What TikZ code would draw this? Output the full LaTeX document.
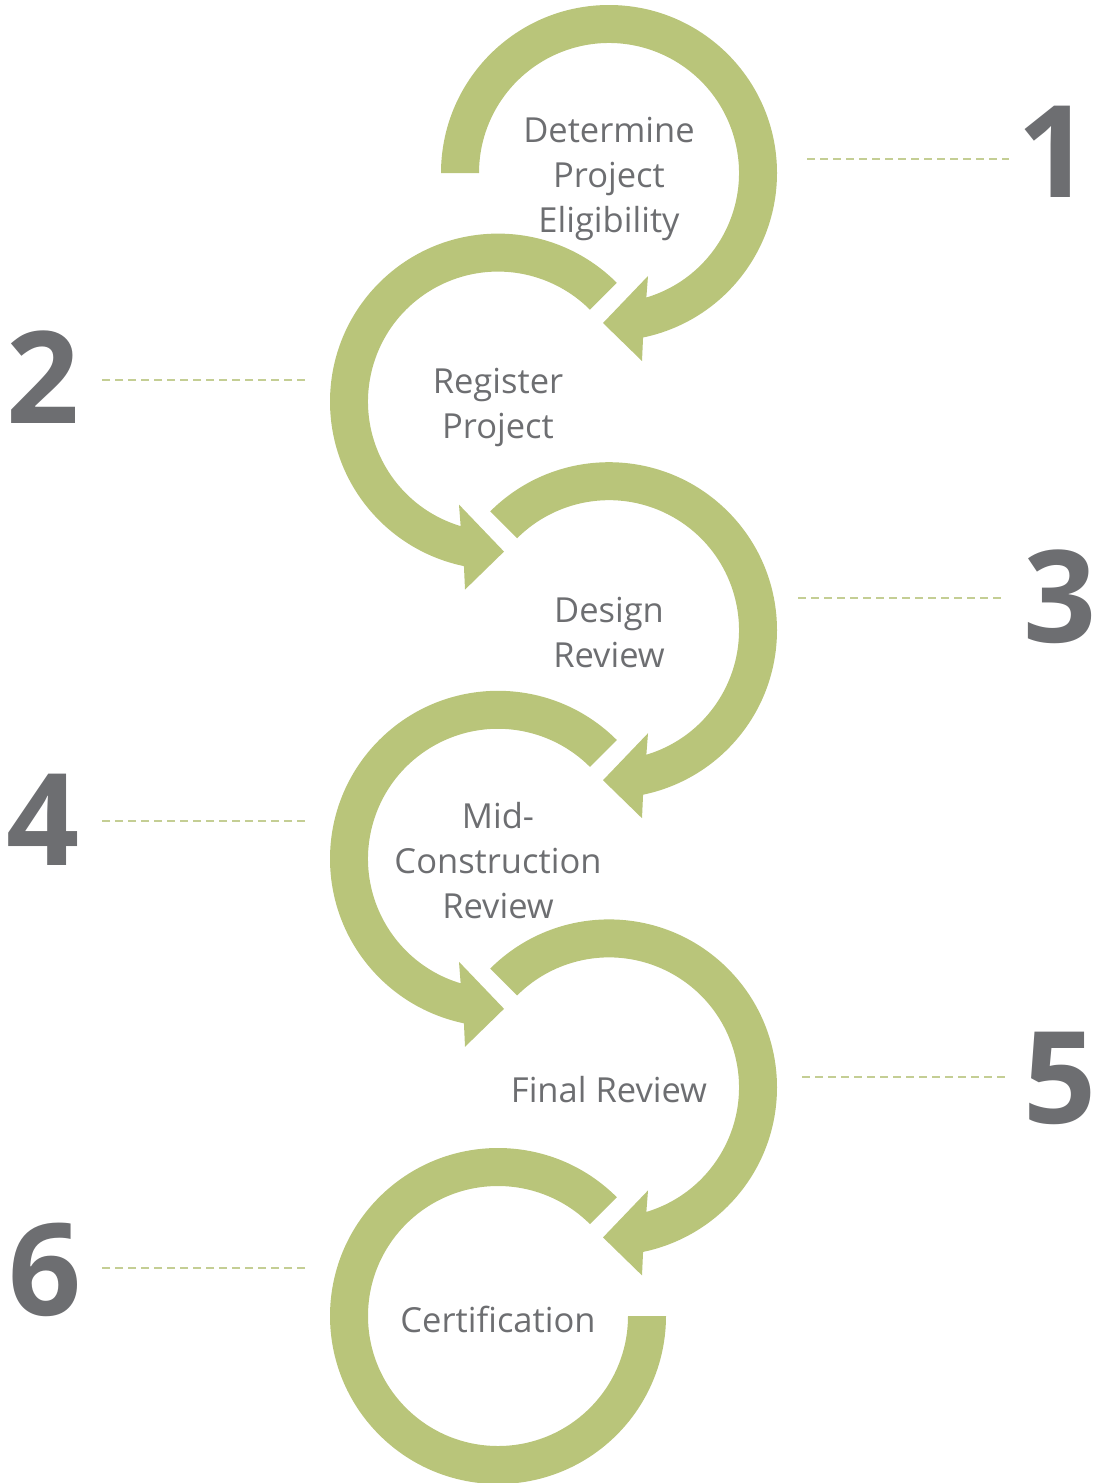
\documentclass[tikz,border=0pt]{standalone}
\usepackage{fontspec}
\setmainfont{Open Sans}
\usetikzlibrary{positioning}
\definecolor{ringgreen}{RGB}{185,197,122}
\definecolor{dashgreen}{RGB}{196,206,148}
\definecolor{labelgray}{RGB}{109,110,113}

\begin{document}
\begin{tikzpicture}[x=1pt,y=1pt,
    ringarrow/.pic={
      \fill[ringgreen] (#1:168) arc[start angle=#1,end angle=-78.3,radius=168]
        -- (33,-188) -- (-6,-150) -- (39,-103) -- (-73.3:130)
        arc[start angle=-73.3,end angle=#1,radius=130] -- cycle;
    }]
    \tikzstyle{steptext}=[align=center,text=labelgray,font=\fontsize{34.5}{45}\selectfont]
    \tikzstyle{stepnum}=[inner sep=0pt,text=labelgray,font=\bfseries\fontsize{128}{128}\selectfont]
    \tikzstyle{guide}=[dashgreen,line width=2pt,dash pattern=on 8pt off 5pt]

    \useasboundingbox (0,0) rectangle (1097,-1483);

    % ring centres
    \coordinate (c1) at (609,-173);
    \coordinate (c2) at (498,-401.6);
    \coordinate (c3) at (609,-630.2);
    \coordinate (c4) at (498,-858.8);
    \coordinate (c5) at (609,-1087.4);
    \coordinate (c6) at (498,-1316);

    % rings
    \pic at (c1) {ringarrow=180};
    \pic[xscale=-1] at (c2) {ringarrow=135};
    \pic at (c3) {ringarrow=135};
    \pic[xscale=-1] at (c4) {ringarrow=135};
    \pic at (c5) {ringarrow=135};
    \fill[ringgreen,shift={(c6)}] (45:168) arc[start angle=45,end angle=360,radius=168]
        -- (0:130) arc[start angle=360,end angle=45,radius=130] -- cycle;

    % step texts
    \node[steptext] (s1) at ([yshift=-6pt]c1) {Determine\\Project\\Eligibility};
    \node[steptext] (s2) at ([yshift=-6pt]c2) {Register\\Project};
    \node[steptext] (s3) at ([yshift=-2pt]c3) {Design\\Review};
    \node[steptext] (s4) at ([yshift=-2pt]c4) {Mid-\\Construction\\Review};
    \node[steptext] (s5) at ([yshift=-2pt]c5) {Final Review};
    \node[steptext] (s6) at ([yshift=-3pt]c6) {Certification};

    % step numbers
    \node[stepnum] (n1) at (1054,-152) {1};
    \node[stepnum] (n2) at (43,-377) {2};
    \node[stepnum] (n3) at (1060,-597) {3};
    \node[stepnum] (n4) at (43,-820) {4};
    \node[stepnum] (n5) at (1060,-1078) {5};
    \node[stepnum] (n6) at (45,-1270) {6};

    % guide lines
    \coordinate (g1) at (807,-159);
    \coordinate (g2) at (305,-380);
    \coordinate (g3) at (798,-598);
    \coordinate (g4) at (305,-821);
    \coordinate (g5) at (802,-1077);
    \coordinate (g6) at (305,-1268);
    \draw[guide] (g1) -- ([xshift=-8pt]g1 -| n1.west);
    \draw[guide] (g2) -- ([xshift=20pt]g2 -| n2.east);
    \draw[guide] (g3) -- ([xshift=-20pt]g3 -| n3.west);
    \draw[guide] (g4) -- ([xshift=20pt]g4 -| n4.east);
    \draw[guide] (g5) -- ([xshift=-18pt]g5 -| n5.west);
    \draw[guide] (g6) -- ([xshift=18pt]g6 -| n6.east);

\end{tikzpicture}
\end{document}
